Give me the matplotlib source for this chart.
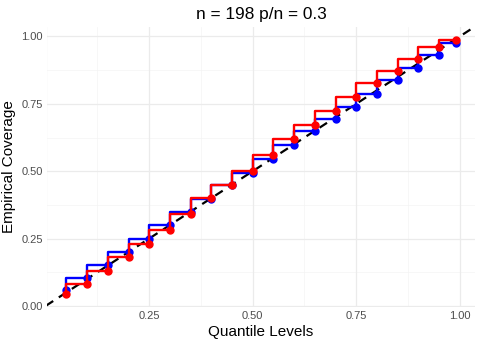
import matplotlib
matplotlib.use("Agg")
import matplotlib.pyplot as plt
import numpy as np

plt.rcParams['font.family'] = ['Liberation Sans', 'DejaVu Sans']

quantile_levels = [0.05, 0.10, 0.15, 0.20, 0.25, 0.30, 0.35, 0.40, 0.45, 0.50,
                   0.55, 0.60, 0.65, 0.70, 0.75, 0.80, 0.85, 0.90, 0.95, 0.99]
coverage_blue = [0.059, 0.104, 0.150, 0.199, 0.250, 0.301, 0.350, 0.398, 0.447, 0.495,
                 0.547, 0.597, 0.648, 0.695, 0.739, 0.787, 0.838, 0.883, 0.933, 0.975]
coverage_red = [0.043, 0.082, 0.130, 0.180, 0.231, 0.283, 0.341, 0.400, 0.449, 0.502,
                0.561, 0.619, 0.672, 0.723, 0.775, 0.828, 0.871, 0.918, 0.961, 0.988]
x_ticks = [0.25, 0.50, 0.75, 1.00]
y_ticks = [0.00, 0.25, 0.50, 0.75, 1.00]
title = "n = 198 p/n = 0.3"

fig = plt.figure(figsize=(4.82, 3.44), dpi=100)
ax = fig.add_axes([47/482, 1 - 307/344, (475-47)/482, (307-27)/344])

# limits like ggplot expansion
xmin, xmax = min(quantile_levels), max(quantile_levels)
xr = xmax - xmin
ymin = min(min(coverage_blue), min(coverage_red))
ymax = max(max(coverage_blue), max(coverage_red))
yr = ymax - ymin
ax.set_xlim(xmin - 0.05 * xr, xmax + 0.05 * xr)
ax.set_ylim(ymin - 0.05 * yr, ymax + 0.05 * yr)

# grid
for t in [0.125, 0.375, 0.625, 0.875]:
    ax.axvline(t, color='#F4F4F4', lw=0.5, zorder=0)
    ax.axhline(t, color='#F4F4F4', lw=0.5, zorder=0)
for t in [0.0, 0.25, 0.5, 0.75, 1.0]:
    ax.axvline(t, color='#EBEBEB', lw=0.9, zorder=0)
    ax.axhline(t, color='#EBEBEB', lw=0.9, zorder=0)

ax.plot([0, 1.2], [0, 1.2], color='black', lw=1.6, ls=(0, (4, 3)), zorder=1)

ax.plot(quantile_levels, coverage_blue, drawstyle='steps-pre', color='#0000FF', lw=1.7, zorder=2)
ax.plot(quantile_levels, coverage_blue, 'o', color='#0000FF', ms=5.0, zorder=3)
ax.plot(quantile_levels, coverage_red, drawstyle='steps-pre', color='#FF0000', lw=1.7, zorder=4)
ax.plot(quantile_levels, coverage_red, 'o', color='#FF0000', ms=5.0, zorder=5)

ax.set_xticks(x_ticks)
ax.set_xticklabels([f"{t:.2f}" for t in x_ticks])
ax.set_yticks(y_ticks)
ax.set_yticklabels([f"{t:.2f}" for t in y_ticks])
ax.tick_params(length=0, labelsize=8, colors='#4D4D4D', pad=3)
for s in ax.spines.values():
    s.set_visible(False)

ax.set_xlabel("Quantile Levels", fontsize=11, labelpad=3)
ax.set_ylabel("Empirical Coverage", fontsize=11, labelpad=4)
ax.set_title(title, fontsize=12.4, pad=6)

fig.savefig("out.png", dpi=100)
